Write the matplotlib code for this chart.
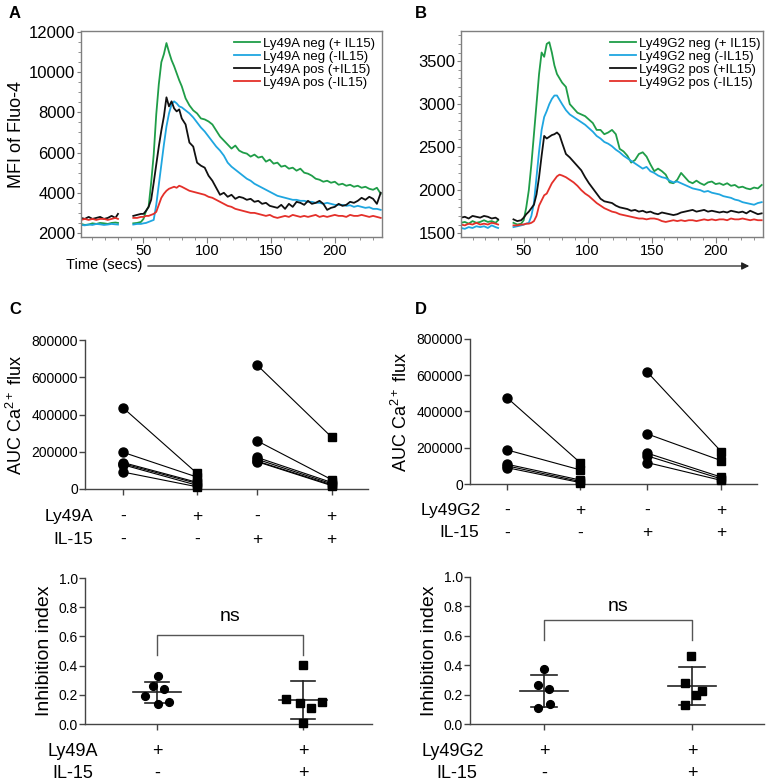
import numpy as np
import matplotlib
matplotlib.use("Agg")
import matplotlib.pyplot as plt
from matplotlib.ticker import MultipleLocator, FixedLocator
from matplotlib.transforms import blended_transform_factory
from matplotlib.patches import FancyArrowPatch

plt.rcParams["font.family"] = ["Liberation Sans", "DejaVu Sans"]
plt.rcParams["mathtext.fontset"] = "custom"
plt.rcParams["mathtext.rm"] = "Liberation Sans"
plt.rcParams["mathtext.it"] = "Liberation Sans:italic"

NAN = np.nan

# ---- Ca2+ flux traces (time in seconds; NAN marks the acquisition gap) ----
time_s = [1, 4, 7, 10, 13, 16, 19, 22, 25, 28, 30,
          36,
          42, 45, 48, 50, 52, 54, 56, 58, 60, 62,
          64, 66, 68, 70, 72, 74, 76, 78, 80, 83,
          86, 89, 92, 95, 98, 101, 104, 107, 110, 113,
          116, 119, 122, 125, 128, 131, 134, 137, 140, 143,
          146, 149, 152, 155, 158, 161, 164, 167, 170, 173,
          176, 179, 182, 185, 188, 191, 194, 197, 200, 203,
          206, 209, 212, 215, 218, 221, 224, 227, 230, 233, 236]

a_neg_il15 = [2450, 2400, 2420, 2480, 2450, 2500, 2480, 2450, 2500, 2520, 2500,
              NAN,
              2480, 2500, 2550, 2700, 3100, 3300, 4500, 5900, 7900, 9400,
              10500, 10900, 11450, 11000, 10600, 10300, 9950, 9600, 9300, 8700,
              8350, 8100, 7950, 7700, 7650, 7550, 7400, 7100, 6800, 6600,
              6400, 6200, 6350, 6100, 6000, 5950, 5800, 5900, 5750, 5800,
              5550, 5650, 5450, 5500, 5300, 5350, 5200, 5250, 5100, 5200,
              5000, 4950, 4850, 4700, 4650, 4550, 4600, 4500, 4550, 4400,
              4450, 4350, 4400, 4300, 4350, 4250, 4300, 4200, 4150, 4250, 3950]
a_neg_no = [2400, 2380, 2420, 2400, 2450, 2430, 2400, 2420, 2450, 2430, 2420,
            NAN,
            2420, 2450, 2450, 2480, 2500, 2550, 2600, 2650, 3400, 4400,
            5400, 6400, 7300, 7950, 8400, 8550, 8450, 8300, 8250, 8100,
            7950, 7750, 7500, 7250, 7050, 6800, 6550, 6300, 6100, 5850,
            5500, 5300, 5150, 5000, 4850, 4700, 4600, 4450, 4350, 4250,
            4150, 4050, 3950, 3850, 3800, 3750, 3700, 3650, 3650, 3600,
            3600, 3550, 3550, 3500, 3500, 3450, 3500, 3450, 3400, 3400,
            3400, 3350, 3380, 3300, 3350, 3300, 3250, 3280, 3200, 3200, 3150]
a_pos_il15 = [2750, 2700, 2800, 2700, 2750, 2800, 2700, 2750, 2850, 2750, 2950,
              NAN,
              2850, 2900, 2950, 2950, 3100, 3300, 3650, 4500, 5400, 6300,
              7100, 7800, 8750, 8300, 8550, 8200, 8050, 8150, 7700, 7400,
              6500, 6300, 5500, 5350, 5250, 4850, 4600, 4250, 3900, 4000,
              3800, 3900, 3700, 3800, 3750, 3650, 3700, 3550, 3600, 3450,
              3500, 3350, 3300, 3250, 3400, 3200, 3450, 3300, 3550, 3500,
              3400, 3600, 3450, 3500, 3600, 3450, 3150, 3250, 3300, 3450,
              3350, 3400, 3550, 3500, 3600, 3750, 3650, 3800, 3700, 3450, 4000]
a_pos_no = [2650, 2700, 2650, 2700, 2650, 2700, 2700, 2650, 2700, 2750, 2700,
            NAN,
            2750, 2750, 2800, 2800, 2850, 2850, 2900, 2950, 3050, 3400,
            3750, 3950, 4100, 4200, 4250, 4300, 4250, 4350, 4300, 4200,
            4100, 4050, 4000, 3950, 3900, 3800, 3750, 3650, 3550, 3450,
            3350, 3300, 3200, 3150, 3100, 3050, 3000, 3000, 2950, 2900,
            2850, 2900, 2800, 2750, 2800, 2850, 2800, 2900, 2850, 2800,
            2850, 2800, 2850, 2900, 2800, 2850, 2800, 2850, 2900, 2850,
            2850, 2800, 2900, 2850, 2850, 2900, 2850, 2800, 2850, 2800, 2750]

b_neg_il15 = [1620, 1630, 1610, 1640, 1620, 1630, 1650, 1630, 1640, 1620, 1650,
              NAN,
              1620, 1600, 1610, 1650, 1800, 2000, 2300, 2650, 3000, 3350,
              3600, 3550, 3700, 3720, 3600, 3450, 3350, 3300, 3250, 3200,
              3000, 2950, 2900, 2880, 2860, 2820, 2780, 2700, 2700, 2650,
              2670, 2700, 2650, 2480, 2450, 2400, 2320, 2350, 2420, 2440,
              2390, 2300, 2220, 2250, 2220, 2180, 2090, 2080, 2120, 2200,
              2150, 2100, 2080, 2110, 2080, 2060, 2090, 2100, 2070, 2080,
              2060, 2080, 2050, 2060, 2030, 2040, 2020, 2010, 2030, 2020, 2060]
b_neg_no = [1560, 1550, 1570, 1560, 1580, 1570, 1580, 1560, 1590, 1570, 1560,
            NAN,
            1570, 1580, 1590, 1600, 1610, 1620, 1700, 1850, 2150, 2450,
            2700, 2850, 2920, 3000, 3060, 3100, 3100, 3050, 3000, 2930,
            2880, 2850, 2820, 2790, 2760, 2720, 2680, 2630, 2600, 2560,
            2540, 2510, 2470, 2440, 2400, 2370, 2340, 2310, 2280, 2250,
            2270, 2220, 2200, 2170, 2150, 2140, 2110, 2090, 2100, 2080,
            2060, 2040, 2020, 2010, 2000, 1980, 1990, 1970, 1960, 1950,
            1930, 1920, 1910, 1890, 1880, 1860, 1850, 1840, 1830, 1850, 1860]
b_pos_il15 = [1680, 1690, 1670, 1700, 1690, 1680, 1700, 1690, 1670, 1680, 1660,
              NAN,
              1660, 1640, 1650, 1680, 1720, 1750, 1790, 1830, 1950, 2150,
              2400, 2630, 2600, 2620, 2640, 2650, 2670, 2640, 2550, 2420,
              2380, 2330, 2280, 2230, 2150, 2080, 2020, 1960, 1900, 1870,
              1860, 1850, 1820, 1800, 1790, 1780, 1760, 1770, 1750, 1760,
              1740, 1750, 1730, 1720, 1740, 1730, 1720, 1710, 1720, 1740,
              1750, 1760, 1770, 1750, 1760, 1770, 1750, 1760, 1750, 1740,
              1750, 1740, 1760, 1750, 1740, 1750, 1730, 1760, 1740, 1720, 1730]
b_pos_no = [1600, 1590, 1610, 1600, 1620, 1600, 1610, 1600, 1620, 1610, 1600,
            NAN,
            1590, 1590, 1600, 1600, 1610, 1610, 1620, 1640, 1700, 1820,
            1880, 1940, 1960, 2020, 2080, 2120, 2160, 2180, 2170, 2150,
            2120, 2090, 2050, 2000, 1960, 1930, 1890, 1850, 1820, 1790,
            1770, 1750, 1740, 1720, 1710, 1700, 1690, 1680, 1670, 1670,
            1660, 1670, 1670, 1660, 1640, 1630, 1640, 1650, 1640, 1650,
            1640, 1650, 1650, 1640, 1650, 1660, 1650, 1660, 1650, 1660,
            1660, 1650, 1670, 1660, 1660, 1670, 1660, 1650, 1660, 1650, 1650]

labels_a = ["Ly49A neg (+ IL15)", "Ly49A neg (-IL15)", "Ly49A pos (+IL15)", "Ly49A pos (-IL15)"]
labels_b = ["Ly49G2 neg (+ IL15)", "Ly49G2 neg (-IL15)", "Ly49G2 pos (+IL15)", "Ly49G2 pos (-IL15)"]
trace_colors = ["#1f9d48", "#1fa6e0", "#111111", "#e4302a"]

# ---- AUC Ca2+ flux, paired per mouse (receptor neg -> receptor pos) ----
c_neg_no_il15 = [436000, 197000, 142000, 136000, 130000, 91000]
c_pos_no_il15 = [84000, 64000, 36000, 30000, 20000, 12000]
c_neg_il15 = [666000, 259000, 170000, 160000, 150000, 147000]
c_pos_il15 = [278000, 50000, 35000, 28000, 22000, 18000]

d_neg_no_il15 = [476000, 188000, 109000, 100000, 90000]
d_pos_no_il15 = [118000, 78000, 22000, 14000, 8000]
d_neg_il15 = [617000, 276000, 170000, 155000, 118000]
d_pos_il15 = [179000, 129000, 38000, 28000, 20000]

row_signs = {"receptor": ["-", "+", "-", "+"], "il15": ["-", "-", "+", "+"]}

# ---- Inhibition index ----
e_no_il15 = [0.331, 0.258, 0.237, 0.194, 0.135, 0.151]
e_il15 = [0.404, 0.171, 0.142, 0.107, 0.153, 0.005]
f_no_il15 = [0.374, 0.265, 0.238, 0.136, 0.107]
f_il15 = [0.465, 0.277, 0.227, 0.197, 0.129]

# horizontal scatter of the dots (layout only)
e_jit = ([0.01, -0.03, 0.05, -0.08, 0.01, 0.08], [0.0, -0.114, -0.02, 0.054, 0.13, 0.0])
f_jit = ([0.0, -0.04, 0.034, 0.038, -0.04], [-0.007, -0.05, 0.068, 0.027, -0.045])

W, H = 768, 784
AX_GRAY = "#7f7f7f"
DARK = "#444444"


def fig_rect(x0, y0, x1, y1):
    return [x0 / W, 1 - y1 / H, (x1 - x0) / W, (y1 - y0) / H]


def draw_traces(ax, series, labels, ylim, major, minor, legend_anchor):
    for vals, lab, col in zip(series, labels, trace_colors):
        ax.plot(time_s, vals, color=col, lw=1.3, label=lab)
    ax.set_xlim(1, 237)
    ax.set_ylim(*ylim)
    ax.xaxis.set_major_locator(FixedLocator([50, 100, 150, 200]))
    ax.xaxis.set_minor_locator(MultipleLocator(10))
    ax.yaxis.set_major_locator(MultipleLocator(major))
    ax.yaxis.set_minor_locator(MultipleLocator(minor))
    ax.tick_params(axis="y", which="major", labelsize=12, length=3, color=AX_GRAY, pad=1)
    ax.tick_params(axis="x", which="major", labelsize=10.5, length=4, color=AX_GRAY, pad=1)
    ax.tick_params(which="minor", length=2, color=AX_GRAY)
    for s in ax.spines.values():
        s.set_color(AX_GRAY)
        s.set_linewidth(1.0)
    leg = ax.legend(loc="upper right", bbox_to_anchor=legend_anchor, frameon=False,
                    fontsize=9.5, handlelength=2.0, handletextpad=0.2,
                    labelspacing=0.05, borderpad=0.2, borderaxespad=0.0)
    return leg


def style_stat_axes(ax):
    for side in ("top", "right"):
        ax.spines[side].set_visible(False)
    for side in ("left", "bottom"):
        ax.spines[side].set_color(DARK)
        ax.spines[side].set_linewidth(1.0)
    ax.tick_params(axis="both", color=DARK, length=4, width=1.0, labelsize=10, pad=1)
    ax.tick_params(axis="x", labelbottom=False)


def row_labels(ax, names, signs, xpos, ys, label_x, size):
    tr = blended_transform_factory(ax.transData, ax.transAxes)
    for name, sg, y, lx in zip(names, signs, ys, label_x):
        ax.text(lx, y, name, transform=ax.transAxes, ha="right", va="center", fontsize=size)
        for x, s in zip(xpos, sg):
            ax.text(x, y, s, transform=tr, ha="center", va="center", fontsize=size)


def draw_paired(ax, xpos, xlim, groups, name, label_x):
    for (neg, pos), (x0, x1) in zip(groups, [(xpos[0], xpos[1]), (xpos[2], xpos[3])]):
        for a, b in zip(neg, pos):
            ax.plot([x0, x1], [a, b], color="black", lw=0.8, zorder=2)
        ax.plot([x0] * len(neg), neg, "o", color="black", ms=6.5, zorder=3, clip_on=False)
        ax.plot([x1] * len(pos), pos, "s", color="black", ms=6.3, zorder=3, clip_on=False)
    ax.set_xlim(*xlim)
    ax.set_ylim(0, 800000)
    ax.set_yticks([0, 200000, 400000, 600000, 800000])
    ax.set_xticks(xpos)
    style_stat_axes(ax)
    ax.set_ylabel("AUC Ca$^{2+}$ flux", fontsize=13, labelpad=4)
    row_labels(ax, [name, "IL-15"], [row_signs["receptor"], row_signs["il15"]],
               xpos, [-0.185, -0.337], label_x, 12.5)


def draw_index(ax, groups, jitter, xlim, bracket, ns_y, name, label_x):
    for i, (vals, jit, mk) in enumerate(zip(groups, jitter, ["o", "s"])):
        vals = np.asarray(vals)
        m, sd = vals.mean(), vals.std(ddof=1)
        ax.plot(i + np.asarray(jit), vals, mk, color="black", ms=5.6, zorder=3, clip_on=False)
        ax.plot([i - 0.165, i + 0.165], [m, m], color="#222222", lw=1.2)
        ax.plot([i, i], [m - sd, m + sd], color="#222222", lw=1.2)
        for yv in (m - sd, m + sd):
            ax.plot([i - 0.085, i + 0.085], [yv, yv], color="#222222", lw=1.2)
    lo, hi = bracket
    ax.plot([0, 0, 1, 1], [lo, hi, hi, lo], color="#555555", lw=1.0)
    ax.text(0.5, ns_y, "ns", ha="center", va="center", fontsize=14)
    ax.set_xlim(*xlim)
    ax.set_ylim(0, 1.0)
    ax.set_yticks([0.0, 0.2, 0.4, 0.6, 0.8, 1.0])
    ax.set_yticklabels(["0.0", "0.2", "0.4", "0.6", "0.8", "1.0"])
    ax.set_xticks([0, 1])
    style_stat_axes(ax)
    ax.set_ylabel("Inhibition index", fontsize=14, labelpad=4)
    row_labels(ax, [name, "IL-15"], [["+", "+"], ["-", "+"]],
               [0, 1], [-0.19, -0.336], label_x, 13)


fig = plt.figure(figsize=(W / 100, H / 100), dpi=100)

ax_a = fig.add_axes(fig_rect(81, 31, 382, 237))
draw_traces(ax_a, [a_neg_il15, a_neg_no, a_pos_il15, a_pos_no], labels_a,
            (1800, 12050), 2000, 500, (0.985, 0.98))
ax_a.set_ylabel("MFI of Fluo-4", fontsize=13, labelpad=3)

ax_b = fig.add_axes(fig_rect(461, 31, 763, 237))
draw_traces(ax_b, [b_neg_il15, b_neg_no, b_pos_il15, b_pos_no], labels_b,
            (1455, 3850), 500, 100, (1.0, 0.98))

# shared time axis arrow
fig.text(142 / W, 1 - 265 / H, "Time (secs)", ha="right", va="center", fontsize=10.5)
fig.add_artist(FancyArrowPatch((145 / W, 1 - 266 / H), (752 / W, 1 - 266 / H),
                               transform=fig.transFigure, arrowstyle="-|>",
                               mutation_scale=11, color="#222222", lw=0.9))

ax_c = fig.add_axes(fig_rect(85, 340, 368, 489))
draw_paired(ax_c, [0, 1, 1.81, 2.82], (-0.514, 3.31),
            [(c_neg_no_il15, c_pos_no_il15), (c_neg_il15, c_pos_il15)],
            "Ly49A", [0.028, 0.028])

ax_d = fig.add_axes(fig_rect(470, 339, 757, 484))
draw_paired(ax_d, [0, 1, 1.92, 2.93], (-0.507, 3.42),
            [(d_neg_no_il15, d_pos_no_il15), (d_neg_il15, d_pos_il15)],
            "Ly49G2", [0.038, 0.031])

ax_e = fig.add_axes(fig_rect(85, 578, 372, 724))
draw_index(ax_e, [e_no_il15, e_il15], e_jit, (-0.493, 1.473), (0.473, 0.61), 0.735,
           "Ly49A", [0.045, 0.028])

ax_f = fig.add_axes(fig_rect(470, 577, 764, 724))
draw_index(ax_f, [f_no_il15, f_il15], f_jit, (-0.5, 1.486), (0.571, 0.707), 0.80,
           "Ly49G2", [0.048, 0.024])

for letter, (px, py) in zip("ABCD", [(15, 14), (421, 14), (15, 310), (421, 310)]):
    fig.text(px / W, 1 - py / H, letter, fontsize=12, fontweight="bold",
             ha="center", va="center")

fig.savefig("out.png", dpi=100)
